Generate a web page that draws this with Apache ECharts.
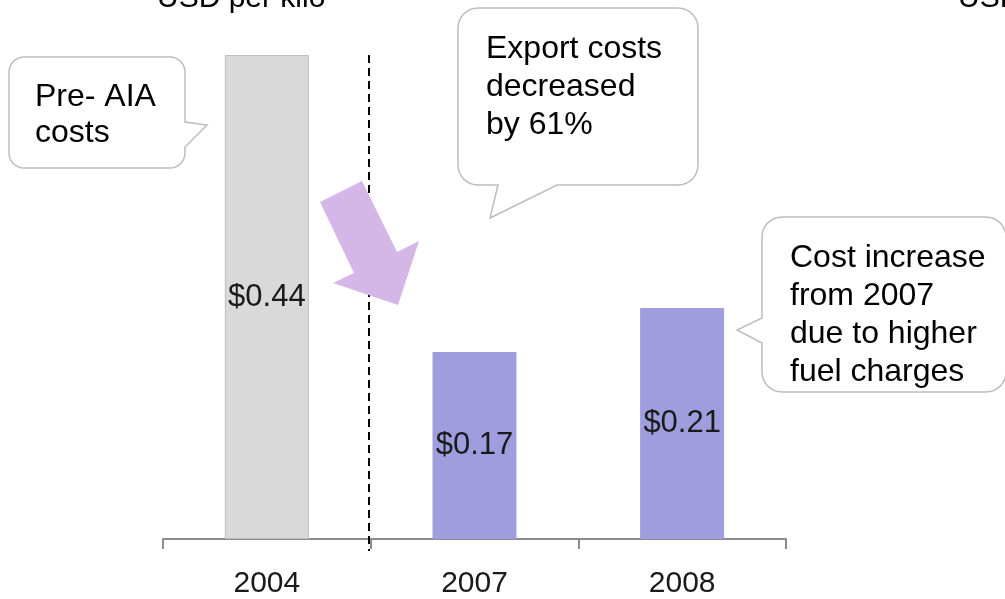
<!DOCTYPE html>
<html>
<head>
<meta charset="utf-8">
<style>
  html, body { margin: 0; padding: 0; background: #ffffff; }
  #chart { width: 1005px; height: 599px; }
</style>
<script src="https://cdn.jsdelivr.net/npm/echarts@6/dist/echarts.min.js"></script>
</head>
<body>
<div id="chart"></div>
<script>
// Export cost per kilo, by year
const years = ['2004', '2007', '2008'];
const costPerKilo = [0.44, 0.17, 0.21];
const barColors = ['#D9D9D9', '#9F9DDE', '#9F9DDE'];
const barBorders = ['#BDBDBD', '#9F9DDE', '#9F9DDE'];

const unitTitle = 'USD per kilo';
const noteBefore = 'Pre- AIA\ncosts';
const noteDrop = 'Export costs\ndecreased\nby 61%';
const noteRise = 'Cost increase\nfrom 2007\ndue to higher\nfuel charges';

const FONT = '"Liberation Sans", Arial, Helvetica, sans-serif';

const chart = echarts.init(document.getElementById('chart'), null, { renderer: 'canvas' });

chart.setOption({
  animation: false,
  backgroundColor: '#ffffff',
  grid: { left: 163, right: 219, top: 55, bottom: 60, containLabel: false },
  xAxis: {
    type: 'category',
    data: years,
    axisLine: { show: true, lineStyle: { color: '#8C8C8C', width: 2 } },
    axisTick: { show: true, inside: false, length: 10, alignWithLabel: false,
      lineStyle: { color: '#8C8C8C', width: 2 } },
    axisLabel: { margin: 30, color: '#1a1a1a', fontSize: 30, fontFamily: FONT },
    splitLine: { show: false }
  },
  yAxis: {
    type: 'value',
    min: 0,
    max: 0.44,
    show: false,
    splitLine: { show: false }
  },
  series: [{
    type: 'bar',
    barWidth: 84,
    data: costPerKilo.map((v, i) => ({
      value: v,
      itemStyle: { color: barColors[i], borderColor: barBorders[i], borderWidth: 1 }
    })),
    label: {
      show: true,
      position: 'inside',
      formatter: p => '$' + p.value.toFixed(2),
      color: '#1a1a1a',
      fontSize: 31,
      fontFamily: FONT
    }
  }]
});

// Points along a quarter arc, used for the rounded bubble corners
function corner(cx, cy, r, a0, a1) {
  const pts = [];
  const n = 8;
  for (let i = 0; i <= n; i++) {
    const a = a0 + (a1 - a0) * i / n;
    pts.push([cx + r * Math.cos(a), cy + r * Math.sin(a)]);
  }
  return pts;
}

// Speech bubble outline: rounded box with a pointed tail on one side (clockwise)
function bubblePoints(x, y, w, h, r, tail) {
  const R = x + w, B = y + h, P = Math.PI;
  let pts = [];
  pts = pts.concat(corner(R - r, y + r, r, -P / 2, 0));          // top-right
  if (tail.side === 'right') pts.push([R, tail.a], tail.tip, [R, tail.b]);
  pts = pts.concat(corner(R - r, B - r, r, 0, P / 2));            // bottom-right
  if (tail.side === 'bottom') pts.push([tail.b, B], tail.tip, [tail.a, B]);
  pts = pts.concat(corner(x + r, B - r, r, P / 2, P));            // bottom-left
  if (tail.side === 'left') pts.push([x, tail.b], tail.tip, [x, tail.a]);
  pts = pts.concat(corner(x + r, y + r, r, P, 1.5 * P));          // top-left
  return pts;
}

function bubble(x, y, w, h, r, tail) {
  return {
    type: 'polygon',
    shape: { points: bubblePoints(x, y, w, h, r, tail) },
    style: { fill: '#ffffff', stroke: '#BDBDBD', lineWidth: 1.5 },
    z: 10
  };
}

function noteText(text, x, y, lh) {
  return {
    type: 'text',
    x: x, y: y,
    style: { text: text, font: `32px ${FONT}`, fill: '#000000', lineHeight: lh, verticalAlign: 'top', align: 'left' },
    z: 11
  };
}

function drawAnnotations() {
  // divider between the pre- and post- periods, anchored to the axis scale
  const c0 = chart.convertToPixel({ xAxisIndex: 0 }, years[0]);
  const c1 = chart.convertToPixel({ xAxisIndex: 0 }, years[1]);
  const divX = Math.round((c0 + c1) / 2) - 2;
  const topY = chart.convertToPixel({ yAxisIndex: 0 }, costPerKilo[0]);
  const baseY = chart.convertToPixel({ yAxisIndex: 0 }, 0);

  chart.setOption({
    graphic: [
      {
        type: 'line',
        shape: { x1: divX, y1: topY, x2: divX, y2: baseY + 12 },
        style: { stroke: '#000000', lineWidth: 2, lineDash: [8, 5] },
        z: 5
      },
      // downward arrow from the 2004 level toward 2007
      {
        type: 'polygon',
        shape: { points: [[320, 202], [362, 181], [397, 252], [419, 241], [398, 305], [333, 283], [354, 273]] },
        style: { fill: '#D4B6E7' },
        z: 6
      },
      bubble(9, 57, 176, 111, 15, { side: 'right', a: 122, b: 147, tip: [207, 125] }),
      noteText(noteBefore, 35, 79, 36),
      bubble(458, 8, 240, 177, 20, { side: 'bottom', a: 498, b: 557, tip: [490, 218] }),
      noteText(noteDrop, 486, 30, 38),
      bubble(762, 217, 244, 175, 20, { side: 'left', a: 318, b: 343, tip: [737, 330] }),
      noteText(noteRise, 790, 239, 38),
      // unit captions
      {
        type: 'text', x: 157, y: -1,
        style: { text: unitTitle, font: `30px ${FONT}`, fill: '#000000', verticalAlign: 'middle', align: 'left' }
      },
      {
        type: 'text', x: 958, y: -1,
        style: { text: unitTitle, font: `30px ${FONT}`, fill: '#000000', verticalAlign: 'middle', align: 'left' }
      }
    ]
  });
}

drawAnnotations();
</script>
</body>
</html>
